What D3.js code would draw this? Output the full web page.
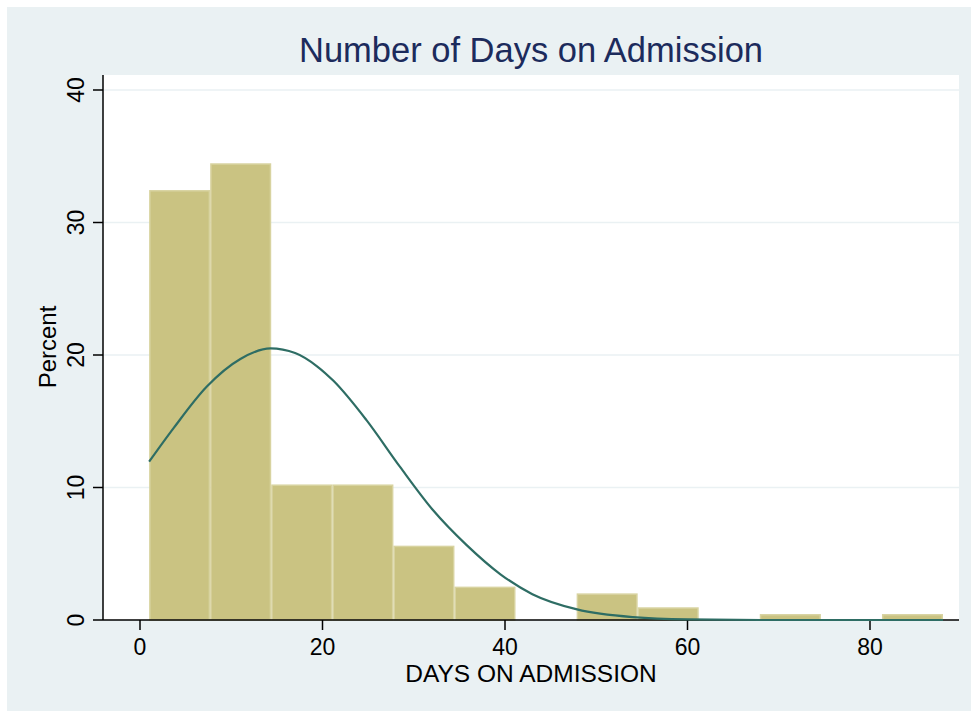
<!DOCTYPE html>
<html>
<head>
<meta charset="utf-8">
<script src="https://cdn.jsdelivr.net/npm/d3@7"></script>
<style>
  html, body { margin: 0; padding: 0; background: #ffffff; }
  svg { display: block; font-family: "Liberation Sans", Arial, Helvetica, sans-serif; }
</style>
</head>
<body>
<svg id="chart" width="971" height="711"></svg>
<script>
// ---- data ----
const binEdges = [1, 7.69, 14.38, 21.08, 27.77, 34.46, 41.15, 47.85, 54.54, 61.23, 67.92, 74.62, 81.31, 88];
const binPercent = [32.45, 34.47, 10.23, 10.23, 5.61, 2.52, 0, 2.01, 0.96, 0, 0.45, 0, 0.45];
const curveX = [1, 3.7, 7.3, 11, 14.3, 17, 19.4, 21.2, 24.8, 28.5, 32.1, 35.8, 39.5, 43, 47.9, 54, 60, 70, 80, 88];
const curveY = [11.95, 14.5, 17.6, 19.7, 20.5, 20.15, 19.15, 18.05, 15.1, 11.55, 8.3, 5.65, 3.45, 1.95, 0.8, 0.22, 0.05, 0.0, 0.0, 0.0];
const xTicks = [0, 20, 40, 60, 80];
const yTicks = [0, 10, 20, 30, 40];
const titleText = "Number of Days on Admission";
const xTitle = "DAYS ON ADMISSION";
const yTitle = "Percent";

// ---- layout ----
const svg = d3.select("#chart");
const plot = { left: 103, right: 959, top: 75, bottom: 620 };

svg.append("rect").attr("x", 7).attr("y", 7).attr("width", 964).attr("height", 704).attr("fill", "#eaf1f3");
svg.append("rect").attr("x", plot.left).attr("y", plot.top)
  .attr("width", plot.right - plot.left).attr("height", plot.bottom - plot.top).attr("fill", "#ffffff");

const x = d3.scaleLinear().domain([0, 80]).range([140, 870]);
const y = d3.scaleLinear().domain([0, 40]).range([620, 90]);

// grid
svg.append("g").selectAll("line").data(yTicks.filter(d => d > 0)).join("line")
  .attr("x1", plot.left).attr("x2", plot.right)
  .attr("y1", d => y(d)).attr("y2", d => y(d))
  .attr("stroke", "#eaf1f3").attr("stroke-width", 1.6);

// bars
const bins = binPercent.map((v, i) => ({ x0: binEdges[i], x1: binEdges[i + 1], v }));
svg.append("g").selectAll("rect").data(bins.filter(b => b.v > 0)).join("rect")
  .attr("x", d => x(d.x0) + 0.75)
  .attr("y", d => y(d.v) + 0.75)
  .attr("width", d => x(d.x1) - x(d.x0) - 1.5)
  .attr("height", d => y(0) - y(d.v) - 0.75)
  .attr("fill", "#cac382")
  .attr("stroke", "#d8d3a0")
  .attr("stroke-width", 1.5);

// axes
const xAxis = svg.append("g").attr("transform", `translate(0,${plot.bottom})`);
xAxis.append("line").attr("x1", plot.left).attr("x2", plot.right).attr("y1", 0).attr("y2", 0)
  .attr("stroke", "#000").attr("stroke-width", 1.5);
const xt = xAxis.selectAll("g.tick").data(xTicks).join("g").attr("class", "tick")
  .attr("transform", d => `translate(${x(d)},0)`);
xt.append("line").attr("y1", 0).attr("y2", 10).attr("stroke", "#000").attr("stroke-width", 1.5);
xt.append("text").attr("y", 35).attr("text-anchor", "middle").attr("font-size", 23).attr("fill", "#000")
  .text(d => d);

const yAxis = svg.append("g").attr("transform", `translate(${plot.left},0)`);
yAxis.append("line").attr("x1", 0).attr("x2", 0).attr("y1", plot.top).attr("y2", plot.bottom)
  .attr("stroke", "#000").attr("stroke-width", 1.5);
const yt = yAxis.selectAll("g.tick").data(yTicks).join("g").attr("class", "tick")
  .attr("transform", d => `translate(0,${y(d)})`);
yt.append("line").attr("x1", 0).attr("x2", -10).attr("stroke", "#000").attr("stroke-width", 1.5);
yt.append("text").attr("transform", "translate(-19,0) rotate(-90)")
  .attr("text-anchor", "middle").attr("font-size", 23).attr("fill", "#000").text(d => d);

// curve
const line = d3.line().x(d => x(d[0])).y(d => y(d[1])).curve(d3.curveMonotoneX);
svg.append("path").datum(curveX.map((v, i) => [v, curveY[i]]))
  .attr("d", line).attr("fill", "none").attr("stroke", "#2e6d64").attr("stroke-width", 2.2);

// titles
svg.append("text").attr("x", 531).attr("y", 62).attr("text-anchor", "middle")
  .attr("font-size", 34.5).attr("fill", "#1c2b5c").text(titleText);
svg.append("text").attr("x", 531).attr("y", 682).attr("text-anchor", "middle")
  .attr("font-size", 24.5).attr("fill", "#000").text(xTitle);
svg.append("text").attr("transform", "translate(56,347) rotate(-90)").attr("text-anchor", "middle")
  .attr("font-size", 24).attr("fill", "#000").text(yTitle);
</script>
</body>
</html>
